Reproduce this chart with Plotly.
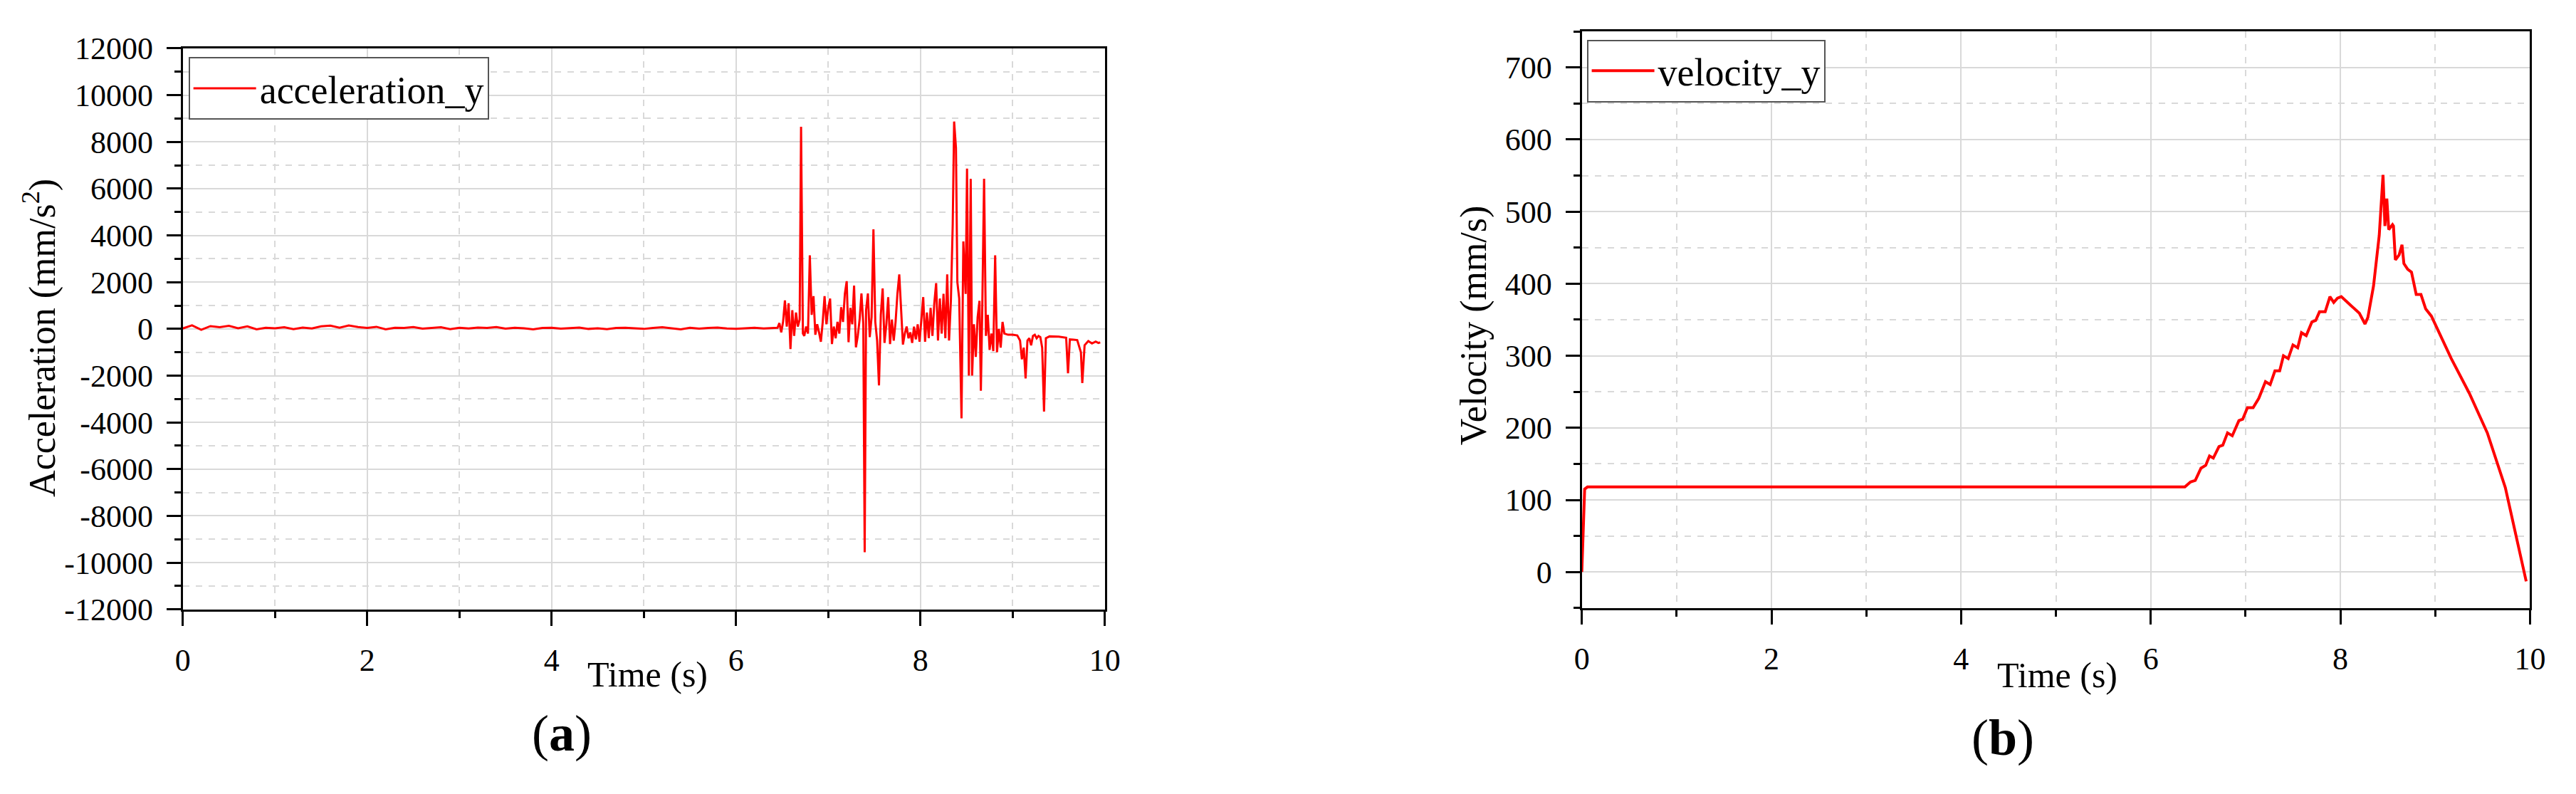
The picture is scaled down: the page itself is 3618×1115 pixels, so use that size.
import plotly.graph_objects as go

# ---------------- data ----------------
acc_t = [0.0, 0.1, 0.2, 0.3, 0.4, 0.5, 0.6, 0.7, 0.8, 0.9, 1.0, 1.1, 1.2, 1.3, 1.4, 1.5, 1.6, 1.7, 1.8, 1.9,
         2.0, 2.1, 2.2, 2.3, 2.4, 2.5, 2.6, 2.7, 2.8, 2.9, 3.0, 3.1, 3.2, 3.3, 3.4, 3.5, 3.6, 3.7, 3.8, 3.9,
         4.0, 4.1, 4.2, 4.3, 4.4, 4.5, 4.6, 4.7, 4.8, 4.9, 5.0, 5.1, 5.2, 5.3, 5.4, 5.5, 5.6, 5.7, 5.8, 5.9,
         6.0, 6.1, 6.2, 6.3, 6.4,
         6.45, 6.47, 6.49, 6.51, 6.53, 6.55, 6.57, 6.59, 6.61, 6.63, 6.65, 6.67, 6.69, 6.705, 6.715, 6.725,
         6.74, 6.76, 6.78, 6.80, 6.82, 6.84, 6.86, 6.88, 6.90, 6.92, 6.94, 6.96, 6.98, 7.00, 7.02, 7.04,
         7.06, 7.08, 7.10, 7.12, 7.14, 7.16, 7.18, 7.20, 7.22, 7.24, 7.26, 7.28, 7.30, 7.32, 7.34, 7.36,
         7.38, 7.395, 7.41, 7.43, 7.45, 7.47, 7.49, 7.51, 7.53, 7.55, 7.57, 7.59, 7.61, 7.63, 7.65, 7.67,
         7.69, 7.71, 7.73, 7.75, 7.77, 7.79, 7.81, 7.83, 7.85, 7.87, 7.89, 7.91, 7.93, 7.95, 7.97, 7.99,
         8.01, 8.03, 8.05, 8.07, 8.09, 8.11, 8.13, 8.15, 8.17, 8.19, 8.21, 8.23, 8.25, 8.27, 8.29, 8.31,
         8.33, 8.35, 8.365, 8.385, 8.40, 8.42, 8.445, 8.465, 8.49, 8.505, 8.525, 8.545, 8.56, 8.58, 8.60,
         8.62, 8.64, 8.655, 8.67, 8.69, 8.71, 8.73, 8.75, 8.77, 8.79, 8.81, 8.83, 8.85, 8.87, 8.89, 8.91,
         8.95, 9.00, 9.05, 9.08, 9.10, 9.12, 9.14, 9.16, 9.18, 9.20, 9.22, 9.24, 9.26, 9.28, 9.30, 9.32,
         9.34, 9.36, 9.40, 9.50, 9.58, 9.60, 9.62, 9.66, 9.70, 9.74, 9.755, 9.78, 9.82, 9.86, 9.90, 9.93, 9.95]

acc_y = [20, 150, -40, 120, 70, 130, 30, 110, -20, 50, 30, 70, -10, 60, 20, 110, 140, 50, 150, 80,
         40, 90, -20, 50, 40, 80, 10, 40, 70, -10, 50, 20, 60, 40, 80, 10, 50, 30, -20, 40,
         50, 10, 40, 60, 0, 30, -10, 40, 50, 20, 0, 40, 70, 30, -20, 50, 10, 40, 60, 20,
         0, 30, 50, 20, 40,
         50, 250, -150, 300, 1220, 100, 1100, -860, 800, -300, 700, 100, 400, 8650, 5000, -200,
         -300, 100, -200, 3150, 600, 1400, -250, 200, -150, -550, 300, 1400, 200, 900, 1300, -650,
         100, -400, 300, -200, 930, 300, 1500, 2040, -570, 900, 200, 1850, -790, -300, 400, 1515,
         200, -9555, 800, 1515, -350, 500, 4260, 300, -500, -2420, 600, 1730, -600, 200, 1360, -650,
         400, -500, 300, 1500, 2330, 600, -670, -200, 100, -400, -150, -600, 100, -450, 200, -550,
         300, 1360, -550, 700, -400, 900, -300, 1100, 1960, -500, 1300, -200, 1500, -400, 2330, -500,
         1200, 4500, 8870, 7750, 2000, 1300, -3830, 3740, 1500, 6860, -2000, 6420, -2000, 200, -1200,
         500, 1200, -2645, 800, 6420, -300, 600, -900, -200, -950, 3150, -1000, 0, -800, 300, -200,
         -250, -250, -280, -500, -1300, -800, -2120, -500, -400, -700, -300, -250, -400, -300, -350, -800,
         -3540, -400, -320, -330, -380, -1900, -450, -460, -480, -1000, -2320, -700, -520, -620, -540, -600, -580]

vel_t = [0.0, 0.03, 0.06, 6.36, 6.42, 6.47, 6.53, 6.58, 6.62, 6.66, 6.72, 6.76, 6.81, 6.86, 6.93, 6.97,
         7.02, 7.08, 7.14, 7.21, 7.26, 7.31, 7.36, 7.40, 7.45, 7.50, 7.55, 7.59, 7.64, 7.70, 7.74,
         7.78, 7.84, 7.89, 7.93, 7.97, 8.01, 8.10, 8.20, 8.26, 8.29, 8.35, 8.41, 8.45, 8.47, 8.49,
         8.51, 8.55, 8.56, 8.58, 8.62, 8.65, 8.67, 8.71, 8.75, 8.80, 8.85, 8.90, 8.96, 9.17, 9.36,
         9.55, 9.74, 9.96]

vel_y = [0, 115, 118, 118, 125, 127, 144, 148, 161, 158, 174, 176, 193, 189, 210, 212,
         228, 228, 241, 264, 260, 279, 279, 300, 296, 315, 311, 332, 328, 347, 349,
         361, 361, 382, 374, 380, 382, 371, 359, 344, 353, 397, 467, 551, 480, 518,
         475, 482, 480, 433, 440, 454, 428, 420, 416, 385, 385, 365, 355, 296, 248,
         193, 117, -13]

x_ticks = [0, 2, 4, 6, 8, 10]
x_ticktext = ["0", "2", "4", "6", "8", "10"]
acc_ticks = [-12000, -10000, -8000, -6000, -4000, -2000, 0, 2000, 4000, 6000, 8000, 10000, 12000]
acc_ticktext = ["-12000", "-10000", "-8000", "-6000", "-4000", "-2000", "0",
                "2000", "4000", "6000", "8000", "10000", "12000"]
vel_ticks = [0, 100, 200, 300, 400, 500, 600, 700]
vel_ticktext = ["0", "100", "200", "300", "400", "500", "600", "700"]

# ---------------- style ----------------
W, H = 3618, 1115
FONT = "Liberation Serif"
RED = "#ff0000"
GRID = "#d9d9d9"


def px(x):
    return x / W


def py(y):
    return (H - y) / H


fig = go.Figure()
fig.add_trace(go.Scatter(x=acc_t, y=acc_y, mode="lines", name="acceleration_y",
                         line=dict(color=RED, width=3), xaxis="x", yaxis="y", legend="legend"))
fig.add_trace(go.Scatter(x=vel_t, y=vel_y, mode="lines", name="velocity_y",
                         line=dict(color=RED, width=4), xaxis="x2", yaxis="y2", legend="legend2"))


def axis_common(**kw):
    d = dict(showline=True, linecolor="black", linewidth=3, mirror=True,
             ticks="outside", ticklen=20, tickwidth=3, tickcolor="black",
             showgrid=True, gridcolor=GRID, gridwidth=2, zeroline=False,
             ticklabelstandoff=10,
             tickfont=dict(family=FONT, size=44, color="black"))
    d.update(kw)
    return d


def minor(dt):
    return dict(dtick=dt, tick0=0, ticks="outside", ticklen=9, tickwidth=3, tickcolor="black",
                showgrid=True, gridcolor=GRID, gridwidth=2, griddash="dash")


legend_style = dict(xanchor="left", yanchor="top", bgcolor="white", bordercolor="#555555",
                    borderwidth=2, font=dict(family=FONT, size=54, color="black"), itemwidth=88)

fig.update_layout(
    width=W, height=H,
    margin=dict(l=0, r=0, t=0, b=0),
    paper_bgcolor="white", plot_bgcolor="white",
    xaxis=axis_common(domain=[px(248), px(1555)], range=[0, 10], anchor="y",
                      tickvals=x_ticks, ticktext=x_ticktext, minor=minor(1)),
    yaxis=axis_common(domain=[py(870), py(46)], range=[-12000, 12000],
                      anchor="x", tickvals=acc_ticks, ticktext=acc_ticktext, minor=minor(1000)),
    xaxis2=axis_common(domain=[px(2231), px(3575)], range=[0, 10], anchor="y2",
                       tickvals=x_ticks, ticktext=x_ticktext, minor=minor(1)),
    yaxis2=axis_common(domain=[py(868), py(21)], range=[-50, 750],
                       anchor="x2", tickvals=vel_ticks, ticktext=vel_ticktext, minor=minor(50)),
    legend=dict(x=px(256), y=py(59), **legend_style),
    legend2=dict(x=px(2238), y=py(33), **legend_style),
    showlegend=True,
)

title_font = dict(family=FONT, size=52, color="black")
for a in [
    dict(text="Acceleration (mm/s<sup>2</sup>)", x=px(46), y=py(471), textangle=-90),
    dict(text="Velocity (mm/s)", x=px(2078), y=py(453), textangle=-90),
]:
    fig.add_annotation(xref="paper", yref="paper", xanchor="center", yanchor="middle",
                       showarrow=False, font=title_font, **a)

time_font = dict(family=FONT, size=50, color="black")
for a in [dict(text="Time (s)", x=px(907), y=py(965)),
          dict(text="Time (s)", x=px(2905), y=py(966))]:
    fig.add_annotation(xref="paper", yref="paper", xanchor="center", yanchor="middle",
                       showarrow=False, font=time_font, **a)

panel_font = dict(family=FONT, size=72, color="black")
for a in [dict(text="(<b>a</b>)", x=px(785), y=py(1052)),
          dict(text="(<b>b</b>)", x=px(2828), y=py(1058))]:
    fig.add_annotation(xref="paper", yref="paper", xanchor="center", yanchor="middle",
                       showarrow=False, font=panel_font, **a)

fig.write_html("out.html", config={"displayModeBar": False},
               post_script="document.body.style.margin='0';document.body.style.overflow='hidden';")
